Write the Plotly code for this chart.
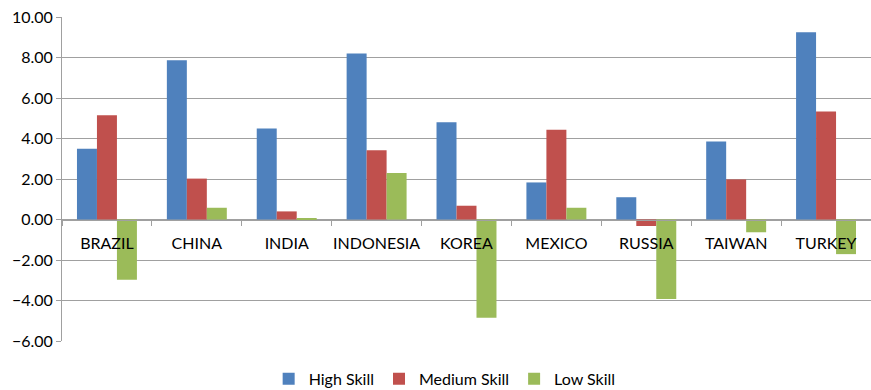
import plotly.graph_objects as go

countries = ["BRAZIL", "CHINA", "INDIA", "INDONESIA", "KOREA", "MEXICO", "RUSSIA", "TAIWAN", "TURKEY"]
high_skill = [3.50, 7.87, 4.50, 8.20, 4.80, 1.83, 1.10, 3.85, 9.25]
medium_skill = [5.15, 2.02, 0.40, 3.42, 0.68, 4.43, -0.32, 1.98, 5.33]
low_skill = [-2.98, 0.58, 0.05, 2.30, -4.85, 0.58, -3.92, -0.63, -1.71]
y_ticks = [-6, -4, -2, 0, 2, 4, 6, 8, 10]

font = "Lato, 'Open Sans', sans-serif"
fig = go.Figure()
for name, vals, col in [("High Skill", high_skill, "#4F81BD"),
                        ("Medium Skill", medium_skill, "#C0504D"),
                        ("Low Skill", low_skill, "#9BBB59")]:
    fig.add_trace(go.Bar(x=countries, y=vals, name=name, marker_color=col,
                         marker_line_width=0))

T, B = 17, 49
zero_pos = 6 / 16

fig.update_layout(
    width=871, height=390,
    margin=dict(l=62, r=0, t=T, b=B, autoexpand=False),
    paper_bgcolor="white", plot_bgcolor="white",
    barmode="group", bargap=0.333, bargroupgap=0,
    font=dict(family=font, size=15, color="#000000"),
    showlegend=True,
    legend=dict(orientation="h", x=0.473, xanchor="center", y=-0.117, yanchor="middle",
                font=dict(size=16), traceorder="normal"),
    xaxis=dict(anchor="free", position=zero_pos, showline=True, linecolor="#A0A0A0", linewidth=1,
               ticks="outside", tickson="boundaries", ticklen=5, tickcolor="#A0A0A0",
               showgrid=False, tickangle=0, automargin=False, tickfont=dict(size=16),
               ticklabelstandoff=9),
    yaxis=dict(range=[-6, 10], tickvals=y_ticks, tickformat=".2f", showline=True,
               linecolor="#A0A0A0", linewidth=1, ticks="outside", ticklen=5, tickcolor="#A0A0A0",
               showgrid=True, gridcolor="#A0A0A0", gridwidth=1, zeroline=False,
               automargin=False, tickfont=dict(size=16)),
)
fig.write_html("out.html")
